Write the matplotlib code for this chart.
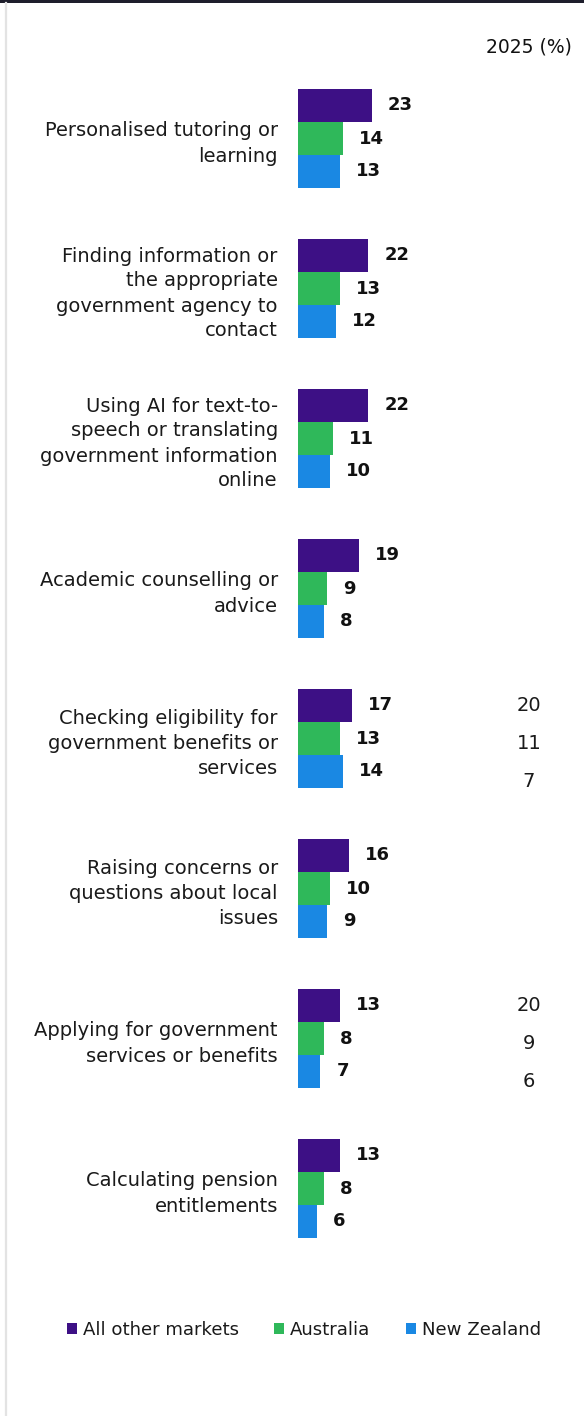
import matplotlib
matplotlib.use("Agg")
import matplotlib.pyplot as plt
from matplotlib.patches import Patch
from matplotlib.lines import Line2D
from matplotlib.transforms import blended_transform_factory

plt.rcParams['font.family'] = ['DejaVu Sans']

categories = [
    "Personalised tutoring or\nlearning",
    "Finding information or\nthe appropriate\ngovernment agency to\ncontact",
    "Using AI for text-to-\nspeech or translating\ngovernment information\nonline",
    "Academic counselling or\nadvice",
    "Checking eligibility for\ngovernment benefits or\nservices",
    "Raising concerns or\nquestions about local\nissues",
    "Applying for government\nservices or benefits",
    "Calculating pension\nentitlements",
]
series_names = ["All other markets", "Australia", "New Zealand"]
all_other = [23, 22, 22, 19, 17, 16, 13, 13]
australia = [14, 13, 11, 9, 13, 10, 8, 8]
new_zealand = [13, 12, 10, 8, 14, 9, 7, 6]
side_rows = [4, 6]
side_values = [[20, 11, 7], [20, 9, 6]]
column_title = "2025 (%)"

colors = ["#3d1085", "#2fb85a", "#1a88e3"]

W, H = 584, 1416
fig = plt.figure(figsize=(W / 100, H / 100), dpi=100)

def px_rect(x0, y0, x1, y1):
    return [x0 / W, 1 - y1 / H, (x1 - x0) / W, (y1 - y0) / H]

# decorative frame: dark rule at top, thin grey rule at left
fig.add_artist(plt.Rectangle((0, 1 - 3 / H), 1, 3 / H, transform=fig.transFigure,
                             color="#1e1e2c", lw=0))
fig.add_artist(Line2D([5.5 / W, 5.5 / W], [0, 1 - 3 / H], transform=fig.transFigure,
                      color="#e3e3e3", lw=1.6))

ax = fig.add_axes(px_rect(298, 63.5, 584, 1263.5))
n = len(categories)
bar_h = 0.22
series = [all_other, australia, new_zealand]
for k, (vals, col, name) in enumerate(zip(series, colors, series_names)):
    ys = [i + (k - 1) * bar_h for i in range(n)]
    ax.barh(ys, vals, height=bar_h, color=col, label=name, lw=0)
    for y, v in zip(ys, vals):
        ax.annotate(str(v), (v, y), xytext=(11.5, 0), textcoords="offset points",
                    ha="left", va="center", fontsize=13, fontweight="bold", color="#111111")

ax.set_xlim(0, 286 / 3.2)
ax.set_ylim(n - 0.5, -0.5)
ax.set_yticks(range(n))
ax.set_yticklabels(categories, fontsize=14, ha="right", multialignment="right",
                   linespacing=1.4, color="#1a1a1a")
ax.tick_params(axis="y", length=0, pad=14.5)
ax.set_xticks([])
for s in ax.spines.values():
    s.set_visible(False)

# figures for an additional column, partly shown at the right edge
tr = blended_transform_factory(fig.transFigure, ax.transData)
for row, vals in zip(side_rows, side_values):
    for k, v in enumerate(vals):
        ax.text(529 / W, row + 0.035 + (k - 1) * 0.2537, str(v), transform=tr,
                ha="center", va="center", fontsize=14, color="#1a1a1a")

fig.text(572 / W, 1 - 47 / H, column_title, ha="right", va="center",
         fontsize=13.5, color="#111111")

handles = [Patch(facecolor=c, edgecolor="none", label=nm) for c, nm in zip(colors, series_names)]
fig.legend(handles=handles, loc="center", bbox_to_anchor=(304 / W, 1 - 1330 / H),
           ncol=3, frameon=False, fontsize=13.1, handlelength=0.55, handleheight=0.55,
           handletextpad=0.32, columnspacing=1.95, labelcolor="#1a1a1a")

fig.savefig("out.png", dpi=100, facecolor="white")
